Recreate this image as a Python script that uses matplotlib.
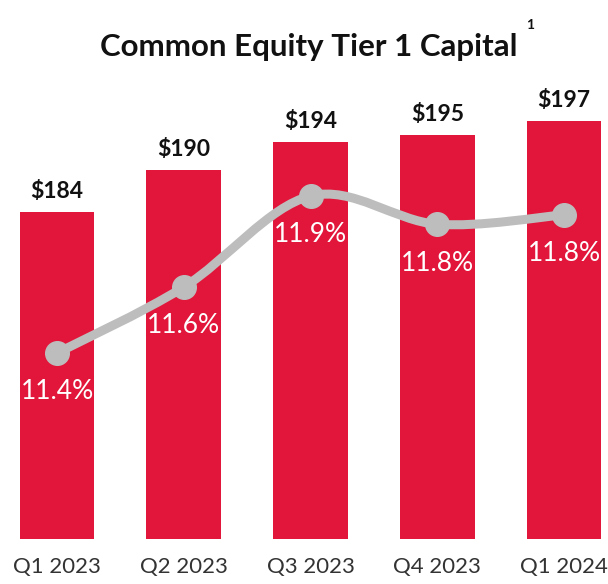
"""
Common Equity Tier 1 capital: bars for capital ($B), line for CET1 ratio (%).
"""
import numpy as np
import matplotlib.pyplot as plt
from matplotlib.path import Path
from matplotlib.patches import PathPatch

quarters = ["Q1 2023", "Q2 2023", "Q3 2023", "Q4 2023", "Q1 2024"]
capital = [184, 190, 194, 195, 197]
ratio = [11.4, 11.61, 11.9, 11.81, 11.84]
ratio_labels = ["11.4%", "11.6%", "11.9%", "11.8%", "11.8%"]

RED = "#E2163A"
GRAY = "#BDBDBD"

plt.rcParams["font.family"] = ["Lato", "DejaVu Sans"]


def smooth_path(x, y, tension=1 / 6):
    """Catmull-Rom curve through the points, as cubic Bezier path."""
    pts = np.column_stack([x, y]).astype(float)
    verts = [pts[0]]
    codes = [Path.MOVETO]
    for i in range(len(pts) - 1):
        p0 = pts[max(i - 1, 0)]
        p1 = pts[i]
        p2 = pts[i + 1]
        p3 = pts[min(i + 2, len(pts) - 1)]
        c1 = p1 + (p2 - p0) * tension
        c2 = p2 - (p3 - p1) * tension
        verts += [c1, c2, p2]
        codes += [Path.CURVE4] * 3
    return Path(verts, codes)


def main():
    fig = plt.figure(figsize=(6.08, 5.84), dpi=100)
    ax = fig.add_axes([0, 0.077, 1, 0.752])
    x = np.arange(len(quarters))

    ax.bar(x, capital, width=0.59, color=RED, zorder=1)
    ax.set_ylim(137.3, 200)
    ax.set_xlim(-0.45, 4.347)
    for xi, v in zip(x, capital):
        ax.annotate(f"${v}", (xi, v), xytext=(0, 7), textcoords="offset points",
                    ha="center", va="bottom", fontsize=16.5, fontweight="bold",
                    color="#111111")

    ax.set_xticks(x)
    ax.set_xticklabels(quarters, fontsize=16, color="#333333")
    ax.tick_params(axis="x", length=0, pad=13)
    ax.set_yticks([])
    for s in ax.spines.values():
        s.set_visible(False)

    ax2 = ax.twinx()
    ax2.set_ylim(10.808, 12.206)
    ax2.set_yticks([])
    for s in ax2.spines.values():
        s.set_visible(False)
    ax2.add_patch(PathPatch(smooth_path(x, ratio), facecolor="none",
                            edgecolor=GRAY, linewidth=6.5, capstyle="round",
                            zorder=2))
    ax2.plot(x, ratio, "o", color=GRAY, markersize=17, zorder=3)
    for xi, v, lab in zip(x, ratio, ratio_labels):
        ax2.annotate(lab, (xi, v), xytext=(0, -28), textcoords="offset points",
                     ha="center", va="center", fontsize=19, color="white")

    fig.text(0.508, 0.919, "Common Equity Tier 1 Capital", ha="center",
             va="center", fontsize=22.5, fontweight="bold", color="#111111")
    fig.text(0.872, 0.957, "1", ha="center", va="center", fontsize=10,
             fontweight="bold", color="#111111")

    plt.savefig("out.png", dpi=100)


if __name__ == "__main__":
    main()
